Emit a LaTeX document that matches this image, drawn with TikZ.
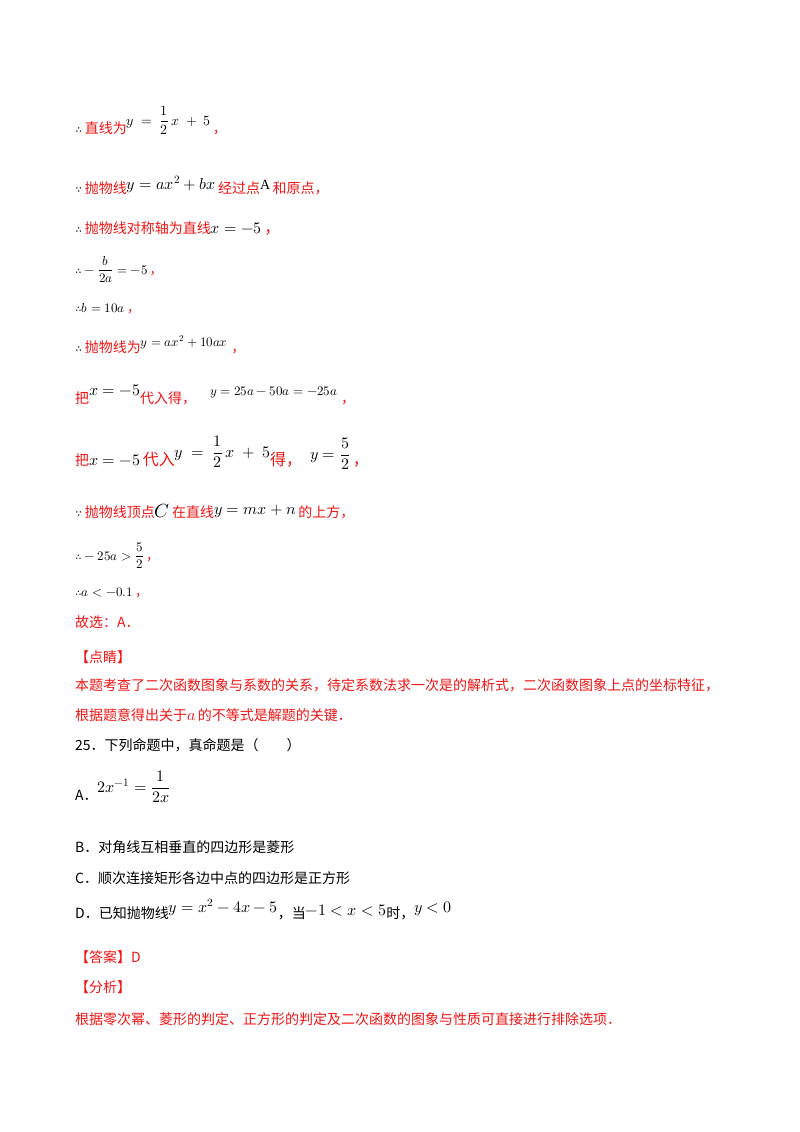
\documentclass[tikz,border=0pt]{standalone}
\usepackage{amsmath,amssymb}
\usepackage{fontspec}
\usepackage{unicode-math}
\setmainfont{Liberation Serif}
\setmathfont{Latin Modern Math}
\newfontfamily\cjk{Noto Sans CJK SC}
\definecolor{rd}{RGB}{240,20,20}
\newcommand\R[1]{\textcolor{rd}{\cjk #1}}
\newcommand\up[2][6pt]{\raisebox{#1}{#2}}
\newcommand\sm{\fontsize{13}{15}\selectfont}
\newcommand\bg{\fontsize{16}{18}\selectfont}
\begin{document}
\begin{tikzpicture}[x=1pt,y=-1pt,
  ln/.style={anchor=base west,inner sep=0pt,font=\fontsize{14}{16}\selectfont}]
\useasboundingbox (0,0) rectangle (800,1132);
\node[ln] (l1) at (75,133) {$\therefore$\,\R{直线为}\up[8pt]{$y\ =\ \dfrac{1}{2}\,x\ +\ 5$}\,\R{，}};
\node[ln] (l2) at (75,193) {$\because$\,\R{抛物线}\up[4pt]{\bg$y=ax^2+bx$}\,\R{经过点}\up[4pt]{A}\,\R{和原点，}};
\node[ln] (l3) at (75,233) {$\therefore$\,\R{抛物线对称轴为直线}\bg$x=-5$\,\R{，}};
\node[ln] (l4) at (75,274) {\sm$\therefore-\dfrac{b}{2a}=-5$\,\R{，}};
\node[ln] (l5) at (75,312) {\sm$\therefore b=10a$\,\R{，}};
\node[ln] (l6) at (75,352) {$\therefore$\,\R{抛物线为}\up[6pt]{\sm$y=ax^2+10ax$}\hspace{4pt}\R{，}};
\node[ln] (l7) at (75,403) {\R{把}\up[8pt]{\bg$x=-5$}\R{代入得，}\hspace{14pt}\up[8pt]{\sm$y=25a-50a=-25a$}\hspace{4pt}\R{，}};
\node[ln] (l8) at (75,465) {\R{把}\bg$x=-5$\,\R{代入}\up[8pt]{\bg$y\ =\ \dfrac{1}{2}\,x\ +\ 5$}\R{得，}\hspace{8pt}\up[6pt]{\bg$y=\dfrac{5}{2}$}\,\R{，}};
\node[ln] (l9) at (75,517) {$\because$\,\R{抛物线顶点}{\fontsize{19}{20}\selectfont$C$}\,\R{在直线}\up[3pt]{\bg$y=mx+n$}\,\R{的上方，}};
\node[ln] (l10) at (75,560) {\sm$\therefore-25a>\dfrac{5}{2}$\,\R{，}};
\node[ln] (l11) at (75,596) {\sm$\therefore a<-0.1$\,\R{，}};
\node[ln] (l12) at (75,627) {\R{故选：A．}};
\node[ln] (l13) at (75,662) {\R{【点睛】}};
\node[ln] (l14) at (75,690) {\R{本题考查了二次函数图象与系数的关系，待定系数法求一次是的解析式，二次函数图象上点的坐标特征，}};
\node[ln] (l15) at (75,720) {\R{根据题意得出关于}\textcolor{rd}{\bg$a$}\,\R{的不等式是解题的关键．}};
\node[ln] (l16) at (75,750) {{\cjk 25．下列命题中，真命题是（\hspace{2em}）}};
\node[ln] (l17) at (75,800) {{\cjk A．}\up[8pt]{\bg$2x^{-1}=\dfrac{1}{2x}$}};
\node[ln] (l18) at (75,852) {{\cjk B．对角线互相垂直的四边形是菱形}};
\node[ln] (l19) at (75,883) {{\cjk C．顺次连接矩形各边中点的四边形是正方形}};
\node[ln] (l20) at (75,918) {{\cjk D．已知抛物线}\up[6pt]{\bg$y=x^2-4x-5$}{\cjk ，当}\up[3pt]{\bg$-1<x<5$}{\cjk 时，}\up[6pt]{\bg$y<0$}};
\node[ln] (l21) at (75,962) {\R{【答案】D}};
\node[ln] (l22) at (75,992) {\R{【分析】}};
\node[ln] (l23) at (75,1024) {\R{根据零次幂、菱形的判定、正方形的判定及二次函数的图象与性质可直接进行排除选项．}};
\end{tikzpicture}
\end{document}
